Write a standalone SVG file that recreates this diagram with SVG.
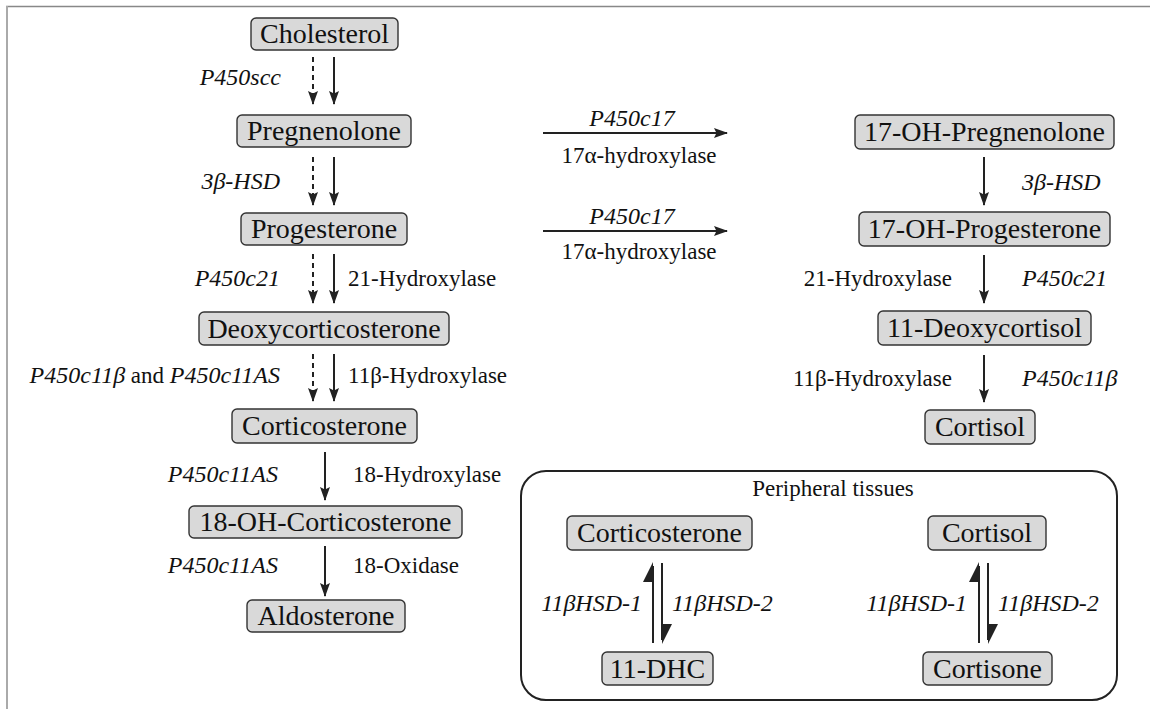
<svg xmlns="http://www.w3.org/2000/svg" width="1150" height="709" viewBox="0 0 1150 709" font-family="Liberation Serif">
<style>
text, tspan{font-family:'Liberation Serif', serif !important}
.node rect{fill:#d9d9d9;stroke:#333;stroke-width:1.4}
.nt{font-size:28px;fill:#111;text-anchor:middle}
.lb{font-size:23px;fill:#111}
.it{font-style:italic;font-size:24px}
.ln{stroke:#222;stroke-width:2;fill:none}
.dash{stroke-dasharray:5 4}
.end{text-anchor:end}
.mid{text-anchor:middle}
</style>
<defs>
<marker id="ah" viewBox="0 0 14 10" refX="13" refY="5" markerWidth="14" markerHeight="10" markerUnits="userSpaceOnUse" orient="auto">
<path d="M0,0 L14,5 L0,10 L2.5,5 z" fill="#222"/>
</marker>
</defs>
<g id="frame">
<line x1="6" y1="6.5" x2="1150" y2="6.5" stroke="#888" stroke-width="1.5"/>
<line x1="7" y1="6" x2="7" y2="709" stroke="#aaa" stroke-width="2"/>
</g>
<g id="peripheral">
<rect x="521" y="471" width="596" height="229" rx="25" fill="none" stroke="#222" stroke-width="2"/>
<text class="lb mid" x="833" y="496" style="font-family:'Liberation Serif',serif">Peripheral tissues</text>
</g>
<g id="n-cholesterol" class="node"><rect x="251" y="18" width="147" height="32" rx="5"/><text class="nt" x="324.5" y="43" style="font-family:'Liberation Serif',serif">Cholesterol</text></g>
<g id="n-pregnenolone" class="node"><rect x="237" y="115" width="174" height="32" rx="5"/><text class="nt" x="324" y="140" style="font-family:'Liberation Serif',serif">Pregnenolone</text></g>
<g id="n-progesterone" class="node"><rect x="241" y="213" width="166" height="32" rx="5"/><text class="nt" x="324" y="238" style="font-family:'Liberation Serif',serif">Progesterone</text></g>
<g id="n-doc" class="node"><rect x="199" y="312" width="250" height="33" rx="5"/><text class="nt" x="324" y="338" style="font-family:'Liberation Serif',serif">Deoxycorticosterone</text></g>
<g id="n-corticosterone" class="node"><rect x="232" y="409" width="185" height="34" rx="5"/><text class="nt" x="324.5" y="435" style="font-family:'Liberation Serif',serif">Corticosterone</text></g>
<g id="n-18oh" class="node"><rect x="189" y="506" width="273" height="32" rx="5"/><text class="nt" x="325.5" y="531" style="font-family:'Liberation Serif',serif">18-OH-Corticosterone</text></g>
<g id="n-aldosterone" class="node"><rect x="247" y="600" width="158" height="32" rx="5"/><text class="nt" x="326" y="625" style="font-family:'Liberation Serif',serif">Aldosterone</text></g>
<g id="n-17ohpreg" class="node"><rect x="855" y="115" width="259" height="34" rx="5"/><text class="nt" x="984.5" y="141" style="font-family:'Liberation Serif',serif">17-OH-Pregnenolone</text></g>
<g id="n-17ohprog" class="node"><rect x="859" y="212" width="251" height="34" rx="5"/><text class="nt" x="984.5" y="238" style="font-family:'Liberation Serif',serif">17-OH-Progesterone</text></g>
<g id="n-11deoxy" class="node"><rect x="878" y="311" width="213" height="34" rx="5"/><text class="nt" x="984.5" y="337" style="font-family:'Liberation Serif',serif">11-Deoxycortisol</text></g>
<g id="n-cortisol" class="node"><rect x="925" y="410" width="110" height="34" rx="5"/><text class="nt" x="980" y="436" style="font-family:'Liberation Serif',serif">Cortisol</text></g>
<g id="n-p-corticosterone" class="node"><rect x="567" y="516" width="185" height="34" rx="5"/><text class="nt" x="659.5" y="542" style="font-family:'Liberation Serif',serif">Corticosterone</text></g>
<g id="n-11dhc" class="node"><rect x="602" y="652" width="111" height="33" rx="5"/><text class="nt" x="657.5" y="678" style="font-family:'Liberation Serif',serif">11-DHC</text></g>
<g id="n-p-cortisol" class="node"><rect x="928" y="516" width="118" height="34" rx="5"/><text class="nt" x="987" y="542" style="font-family:'Liberation Serif',serif">Cortisol</text></g>
<g id="n-cortisone" class="node"><rect x="923" y="652" width="129" height="33" rx="5"/><text class="nt" x="987.5" y="678" style="font-family:'Liberation Serif',serif">Cortisone</text></g>
<g id="connectors">
<line class="ln dash" x1="313" y1="57" x2="313" y2="104" marker-end="url(#ah)"/>
<line class="ln" x1="334" y1="57" x2="334" y2="104" marker-end="url(#ah)"/>
<line class="ln dash" x1="313" y1="157" x2="313" y2="205" marker-end="url(#ah)"/>
<line class="ln" x1="334" y1="157" x2="334" y2="205" marker-end="url(#ah)"/>
<line class="ln dash" x1="313" y1="254" x2="313" y2="303" marker-end="url(#ah)"/>
<line class="ln" x1="334" y1="254" x2="334" y2="303" marker-end="url(#ah)"/>
<line class="ln dash" x1="313" y1="354" x2="313" y2="401" marker-end="url(#ah)"/>
<line class="ln" x1="334" y1="354" x2="334" y2="401" marker-end="url(#ah)"/>
<line class="ln" x1="325" y1="452" x2="325" y2="500" marker-end="url(#ah)"/>
<line class="ln" x1="325" y1="546" x2="325" y2="596" marker-end="url(#ah)"/>
<line class="ln" x1="543" y1="133" x2="727" y2="133" marker-end="url(#ah)"/>
<line class="ln" x1="543" y1="231" x2="727" y2="231" marker-end="url(#ah)"/>
<line class="ln" x1="984" y1="157" x2="984" y2="205" marker-end="url(#ah)"/>
<line class="ln" x1="984" y1="255" x2="984" y2="303" marker-end="url(#ah)"/>
<line class="ln" x1="984" y1="355" x2="984" y2="402" marker-end="url(#ah)"/>
<line class="ln" x1="653" y1="643" x2="653" y2="566"/>
<path d="M653,562 L643,582 L653,582 z" fill="#222"/>
<line class="ln" x1="662" y1="563" x2="662" y2="640"/>
<path d="M662,644 L672,624 L662,624 z" fill="#222"/>
<line class="ln" x1="979" y1="643" x2="979" y2="566"/>
<path d="M979,562 L969,582 L979,582 z" fill="#222"/>
<line class="ln" x1="988" y1="563" x2="988" y2="640"/>
<path d="M988,644 L998,624 L988,624 z" fill="#222"/>
</g>
<g id="labels">
<text class="lb it end" x="281" y="85" style="font-family:'Liberation Serif',serif">P450scc</text>
<text class="lb it end" x="280" y="189" style="font-family:'Liberation Serif',serif">3β-HSD</text>
<text class="lb it end" x="280" y="286" style="font-family:'Liberation Serif',serif">P450c21</text>
<text class="lb" x="348" y="286" style="font-family:'Liberation Serif',serif">21-Hydroxylase</text>
<text class="lb end" x="280" y="383" style="font-family:'Liberation Serif',serif"><tspan class="it">P450c11β</tspan> and <tspan class="it">P450c11AS</tspan></text>
<text class="lb" x="348" y="383" style="font-family:'Liberation Serif',serif">11β-Hydroxylase</text>
<text class="lb it end" x="278" y="482" style="font-family:'Liberation Serif',serif">P450c11AS</text>
<text class="lb" x="353" y="482" style="font-family:'Liberation Serif',serif">18-Hydroxylase</text>
<text class="lb it end" x="278" y="573" style="font-family:'Liberation Serif',serif">P450c11AS</text>
<text class="lb" x="353" y="573" style="font-family:'Liberation Serif',serif">18-Oxidase</text>
<text class="lb it mid" x="632" y="126" style="font-family:'Liberation Serif',serif">P450c17</text>
<text class="lb mid" x="639" y="163" style="font-family:'Liberation Serif',serif">17α-hydroxylase</text>
<text class="lb it mid" x="632" y="224" style="font-family:'Liberation Serif',serif">P450c17</text>
<text class="lb mid" x="639" y="259" style="font-family:'Liberation Serif',serif">17α-hydroxylase</text>
<text class="lb it" x="1022" y="190" style="font-family:'Liberation Serif',serif">3β-HSD</text>
<text class="lb end" x="952" y="286" style="font-family:'Liberation Serif',serif">21-Hydroxylase</text>
<text class="lb it" x="1022" y="286" style="font-family:'Liberation Serif',serif">P450c21</text>
<text class="lb end" x="952" y="386" style="font-family:'Liberation Serif',serif">11β-Hydroxylase</text>
<text class="lb it" x="1022" y="386" style="font-family:'Liberation Serif',serif">P450c11β</text>
<text class="lb it end" x="642" y="611" style="font-family:'Liberation Serif',serif">11βHSD-1</text>
<text class="lb it" x="672" y="611" style="font-family:'Liberation Serif',serif">11βHSD-2</text>
<text class="lb it end" x="967" y="611" style="font-family:'Liberation Serif',serif">11βHSD-1</text>
<text class="lb it" x="998" y="611" style="font-family:'Liberation Serif',serif">11βHSD-2</text>
</g>
</svg>
